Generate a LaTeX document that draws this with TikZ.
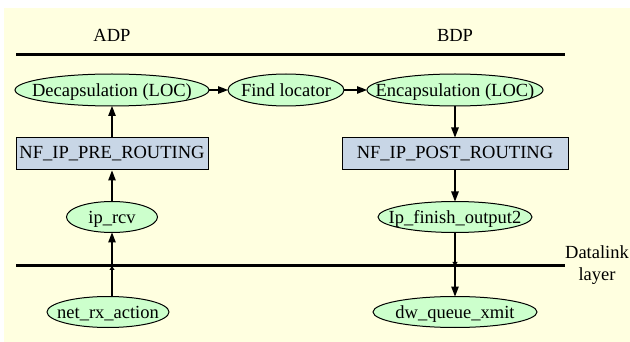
\documentclass[tikz,border=0pt]{standalone}
\usepackage{fontspec}
\setmainfont{Liberation Serif}
\usetikzlibrary{shapes.geometric,arrows.meta}
\definecolor{bgyellow}{RGB}{255,255,224}
\definecolor{nodegreen}{RGB}{204,255,204}
\definecolor{boxblue}{RGB}{200,214,230}
\newcommand\ovtext[1]{\makebox[0pt]{\raisebox{-0.33em}[0pt][0pt]{#1}}}
\tikzset{
  oval/.style={ellipse,draw=black,line width=1pt,fill=nodegreen,inner sep=0pt,
    outer sep=0pt,font=\fontsize{18.5}{22}\selectfont},
  hookbox/.style={rectangle,draw=black,line width=1pt,fill=boxblue,inner sep=0pt,
    minimum height=32pt,font=\fontsize{18.5}{22}\selectfont},
  lbl/.style={font=\fontsize{18.5}{22}\selectfont,inner sep=0pt},
  layerline/.style={line width=3pt},
  edge/.style={line width=1.3pt,-{Triangle[length=10pt,width=7.5pt]}},
  stub/.style={line width=1.3pt,-{Triangle[length=4pt,width=5pt]}},
  plain/.style={line width=1.3pt}
}
\begin{document}
\begin{tikzpicture}[x=1pt,y=-1pt]
\useasboundingbox (0,0) rectangle (630,342);
\fill[bgyellow] (4,8) rectangle (630,342);
% labels
\node[lbl] (adp) at (112,35) {ADP};
\node[lbl] (bdp) at (455,35) {BDP};
\node[lbl,align=center] (dl) at (597,265) {Datalink\\layer};
% layer lines
\coordinate (tl) at (16,55);
\coordinate (tr) at (565,55);
\draw[layerline] (tl) -- (tr);
\coordinate (bl) at (16,266);
\coordinate (br) at (565,266);
\draw[layerline] (bl) -- (br);
% nodes
\node[oval,minimum width=194pt,minimum height=32pt] (dec) at (112,90) {\ovtext{Decapsulation (LOC)}};
\node[oval,minimum width=116pt,minimum height=32pt] (find) at (286,90) {\ovtext{Find locator}};
\node[oval,minimum width=176pt,minimum height=32pt] (enc) at (455,90) {\ovtext{Encapsulation (LOC)}};
\node[hookbox,minimum width=192pt] (pre) at (112,154) {NF\_IP\_PRE\_ROUTING};
\node[hookbox,minimum width=226pt] (post) at (455,154) {NF\_IP\_POST\_ROUTING};
\node[oval,minimum width=91pt,minimum height=31pt] (iprcv) at (112,217) {\ovtext{ip\_rcv}};
\node[oval,minimum width=154pt,minimum height=31pt] (ipfin) at (455,217) {\ovtext{Ip\_finish\_output2}};
\node[oval,minimum width=122pt,minimum height=31pt] (netrx) at (108,312) {\ovtext{net\_rx\_action}};
\node[oval,minimum width=164pt,minimum height=31pt] (dwq) at (455,312) {\ovtext{dw\_queue\_xmit}};
\coordinate (p1) at (112,266);
\coordinate (p2) at (455,266);
\coordinate (n1) at (112,297);
% edges
\draw[edge] (dec) -- (find);
\draw[edge] (find) -- (enc);
\draw[edge] (pre.north) -- (dec.south);
\draw[edge] (iprcv.north) -- (pre.south);
\draw[edge] (p1) -- (iprcv.south);
\draw[stub] (n1) -- (p1);
\draw[edge] (enc.south) -- (post.north);
\draw[edge] (post.south) -- (ipfin.north);
\draw[stub] (ipfin.south) -- (p2);
\draw[edge] (p2) -- (dwq.north);
\end{tikzpicture}
\end{document}
